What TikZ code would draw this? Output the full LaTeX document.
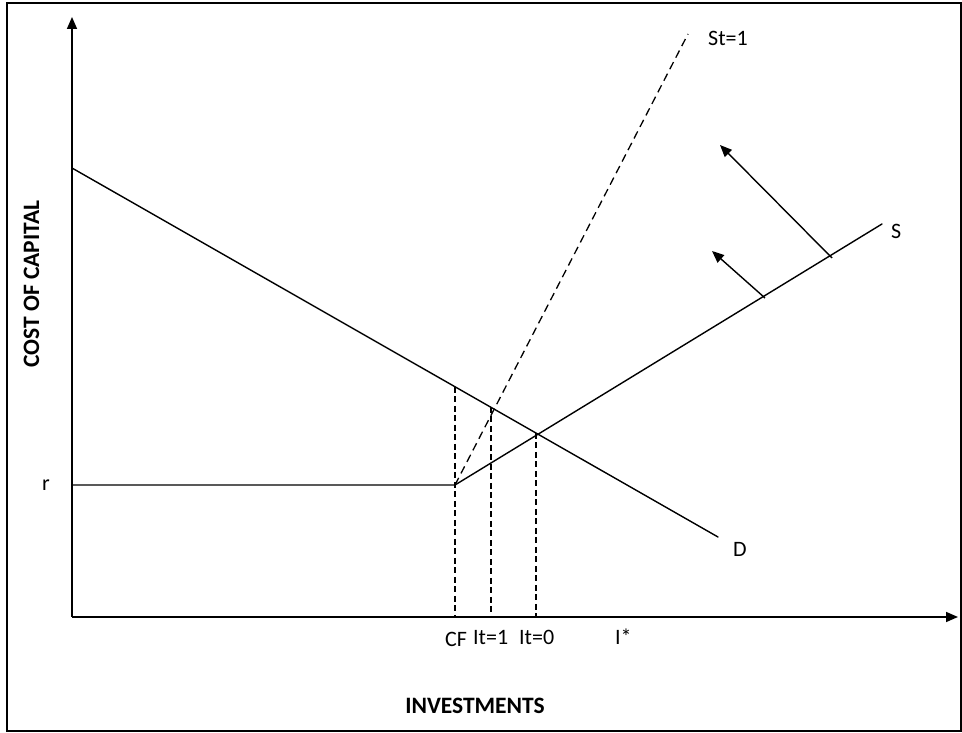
\documentclass[tikz,border=0pt]{standalone}
\usepackage{fontspec}
\setmainfont{Carlito}
\usepackage{tikz}
\usetikzlibrary{arrows.meta, positioning}

\begin{document}
\begin{tikzpicture}[x=1pt, y=1pt,
    curve/.style={line width=1.4pt, line cap=round},
    axisline/.style={line width=1.6pt, -{Triangle[length=12pt, width=10pt]}},
    shiftarrow/.style={line width=1.4pt, -{Triangle[length=12pt, width=10pt]}},
    guide/.style={line width=1.3pt, dash pattern=on 6pt off 3.5pt},
    lbl/.style={font=\fontsize{22}{26}\selectfont, inner sep=0pt},
    axtitle/.style={font=\fontsize{23.5}{28}\selectfont\bfseries, inner sep=0pt}]
    \useasboundingbox (0,0) rectangle (962,733);
    \draw[line width=1.5pt] (7,2) rectangle (961,730);
    % axes
    \coordinate (O) at (72,116);
    \coordinate (ytop) at (72,716);
    \coordinate (xend) at (958,116);
    \draw[axisline] (O) -- (ytop);
    \draw[axisline] (O) -- (xend);
    % demand, supply and shifted supply
    \coordinate (d0) at (72,565);
    \coordinate (d1) at (718,196);
    \coordinate (r0) at (72,248);
    \coordinate (cf) at (455,248);
    \coordinate (s1) at (882,509);
    \coordinate (st1) at (688,699);
    \draw[curve] (d0) -- (d1);
    \draw[curve] (r0) -- (cf) -- (s1);
    \draw[guide, dash pattern=on 8pt off 5pt] (cf) -- (st1);
    % equilibrium guides
    \coordinate (cftop) at (455,346);
    \coordinate (cfbot) at (455,116);
    \coordinate (i1top) at (491,326);
    \coordinate (i1bot) at (491,116);
    \coordinate (i0top) at (536,300);
    \coordinate (i0bot) at (536,116);
    \draw[guide] (cftop) -- (cfbot);
    \draw[guide] (i1top) -- (i1bot);
    \draw[guide] (i0top) -- (i0bot);
    % shift arrows
    \coordinate (a0) at (765,435);
    \coordinate (a0tip) at (712,482);
    \coordinate (a1) at (832,475);
    \coordinate (a1tip) at (720,588);
    \draw[shiftarrow] (a0) -- (a0tip);
    \draw[shiftarrow] (a1) -- (a1tip);
    % labels
    \node[lbl, anchor=base west] (lst) at (708,687) {St=1};
    \node[lbl, anchor=base west] (ls) at (891,494) {S};
    \node[lbl, anchor=base west] (ld) at (733,176) {D};
    \node[lbl, anchor=base west] (lr) at (42,242) {r};
    \node[lbl, anchor=base west] (lcf) at (445,86) {CF};
    \node[lbl, anchor=base west] (li1) at (473,88) {It=1};
    \node[lbl, anchor=base west] (li0) at (519,88) {It=0};
    \node[lbl, anchor=base west] (listar) at (615,88) {I*};
    \node[axtitle, anchor=base] (lx) at (475,19) {INVESTMENTS};
    \node[axtitle, rotate=90, anchor=base] (ly) at (39,449) {COST OF CAPITAL};
\end{tikzpicture}
\end{document}
